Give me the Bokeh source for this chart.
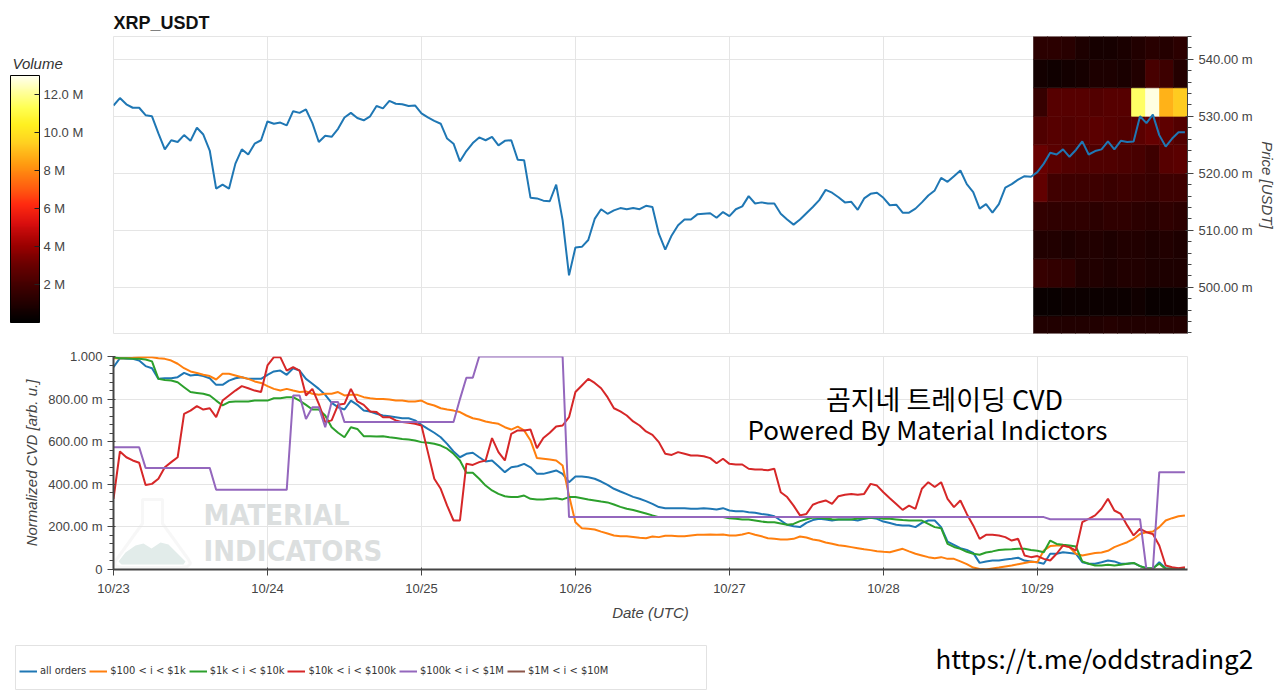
import pandas as pd
from bokeh.plotting import figure
from bokeh.layouts import column
from bokeh.models import (ColumnDataSource, Range1d, DaysTicker, DatetimeTickFormatter,
                          SingleIntervalTicker, CustomJSTickFormatter, LinearColorMapper, ColorBar,
                          FixedTicker, Legend, LegendItem, Label, PolyAnnotation, BoxAnnotation)
from bokeh.transform import transform
from bokeh.embed import file_html
from bokeh.resources import INLINE

# ---------------- data ----------------
SYMBOL = "XRP_USDT"
START = "2023-10-23 00:00"
X_END = "2023-10-29 23:24"

# hourly close price [USDT]
price = [
    0.5319, 0.5332, 0.5321, 0.5315, 0.5315, 0.5302, 0.5300, 0.5270, 0.5242, 0.5258,
    0.5255, 0.5267, 0.5257, 0.5280, 0.5268, 0.5240, 0.5173, 0.5180, 0.5173, 0.5217,
    0.5242, 0.5233, 0.5252, 0.5258, 0.5291, 0.5287, 0.5289, 0.5284, 0.5309, 0.5306,
    0.5312, 0.5288, 0.5255, 0.5266, 0.5264, 0.5278, 0.5298, 0.5306, 0.5297, 0.5293,
    0.5300, 0.5318, 0.5314, 0.5327, 0.5322, 0.5321, 0.5318, 0.5319, 0.5305, 0.5298,
    0.5292, 0.5287, 0.5261, 0.5252, 0.5221, 0.5239, 0.5253, 0.5263, 0.5258, 0.5264,
    0.5249, 0.5257, 0.5258, 0.5224, 0.5223, 0.5157, 0.5156, 0.5152, 0.5151, 0.5180,
    0.5118, 0.5021, 0.5070, 0.5071, 0.5083, 0.5120, 0.5137, 0.5129, 0.5135, 0.5139,
    0.5137, 0.5139, 0.5137, 0.5143, 0.5141, 0.5094, 0.5066, 0.5091, 0.5109, 0.5119,
    0.5119, 0.5128, 0.5129, 0.5130, 0.5122, 0.5132, 0.5125, 0.5137, 0.5142, 0.5160,
    0.5147, 0.5149, 0.5147, 0.5147, 0.5129, 0.5119, 0.5110, 0.5119, 0.5130, 0.5141,
    0.5153, 0.5171, 0.5166, 0.5158, 0.5149, 0.5150, 0.5136, 0.5156, 0.5164, 0.5166,
    0.5157, 0.5144, 0.5145, 0.5131, 0.5131, 0.5138, 0.5149, 0.5161, 0.5170, 0.5192,
    0.5185, 0.5195, 0.5205, 0.5181, 0.5167, 0.5138, 0.5146, 0.5131, 0.5146, 0.5175,
    0.5181, 0.5189, 0.5195, 0.5194, 0.5202, 0.5217, 0.5236, 0.5233, 0.5242, 0.5229,
    0.5241, 0.5256, 0.5233, 0.5239, 0.5242, 0.5256, 0.5242, 0.5257, 0.5255, 0.5256,
    0.5300, 0.5288, 0.5303, 0.5267, 0.5247, 0.5261, 0.5272, 0.5272,
]

cvd_all = [
    0.950, 0.992, 0.989, 0.989, 0.981, 0.955, 0.945, 0.895, 0.898, 0.898,
    0.903, 0.923, 0.911, 0.914, 0.908, 0.898, 0.867, 0.867, 0.887, 0.898,
    0.903, 0.895, 0.895, 0.895, 0.914, 0.930, 0.934, 0.914, 0.945, 0.934,
    0.895, 0.872, 0.848, 0.820, 0.782, 0.762, 0.751, 0.793, 0.773, 0.746,
    0.742, 0.731, 0.723, 0.720, 0.715, 0.710, 0.710, 0.700, 0.679, 0.660,
    0.642, 0.621, 0.590, 0.554, 0.527, 0.543, 0.548, 0.527, 0.507, 0.512,
    0.485, 0.457, 0.480, 0.485, 0.496, 0.480, 0.449, 0.449, 0.457, 0.465,
    0.449, 0.410, 0.437,
    0.437, 0.433, 0.426, 0.413, 0.397, 0.379, 0.366, 0.354, 0.341, 0.332,
    0.321, 0.308, 0.293, 0.288, 0.288, 0.288, 0.288, 0.285, 0.285, 0.288,
    0.285, 0.282, 0.288, 0.277, 0.274, 0.274, 0.269, 0.266, 0.261, 0.257,
    0.250, 0.230, 0.210, 0.203, 0.199, 0.219, 0.232, 0.238, 0.235, 0.230,
    0.235, 0.235, 0.235, 0.230, 0.238, 0.243, 0.238, 0.225, 0.218, 0.210,
    0.207, 0.207, 0.199, 0.219, 0.230, 0.230, 0.199, 0.131, 0.116, 0.100,
    0.092, 0.078, 0.031, 0.038, 0.042, 0.042, 0.047, 0.050, 0.055, 0.042,
    0.038, 0.034,
    0.027, 0.074, 0.074, 0.081, 0.078, 0.074, 0.034, 0.027, 0.027, 0.034,
    0.042, 0.038, 0.027, 0.027, 0.031, 0.016, 0.006, 0.003, 0.034, 0.006,
    0.003, 0.003, 0.006,
]

cvd_100_1k = [
    0.992, 0.992, 0.992, 0.994, 0.997, 0.997, 0.997, 0.992, 0.989, 0.981,
    0.966, 0.945, 0.930, 0.923, 0.914, 0.908, 0.892, 0.919, 0.919, 0.911,
    0.903, 0.895, 0.883, 0.876, 0.861, 0.848, 0.840, 0.848, 0.840, 0.833,
    0.836, 0.825, 0.820, 0.825, 0.825, 0.833, 0.817, 0.820, 0.820, 0.809,
    0.804, 0.801, 0.801, 0.798, 0.793, 0.793, 0.789, 0.789, 0.793, 0.778,
    0.770, 0.757, 0.751, 0.746, 0.739, 0.723, 0.710, 0.704, 0.695, 0.689,
    0.684, 0.668, 0.657, 0.671, 0.653, 0.606, 0.523, 0.520, 0.516, 0.512,
    0.488, 0.347, 0.222,
    0.194, 0.191, 0.188, 0.178, 0.169, 0.160, 0.156, 0.156, 0.153, 0.149,
    0.147, 0.155, 0.152, 0.158, 0.158, 0.156, 0.156, 0.160, 0.163, 0.163,
    0.164, 0.163, 0.164, 0.160, 0.160, 0.164, 0.172, 0.163, 0.156, 0.147,
    0.144, 0.141, 0.141, 0.144, 0.155, 0.150, 0.141, 0.136, 0.127, 0.121,
    0.114, 0.110, 0.105, 0.100, 0.095, 0.091, 0.086, 0.083, 0.081, 0.089,
    0.097, 0.085, 0.074, 0.066, 0.058, 0.053, 0.058, 0.050, 0.050, 0.038,
    0.025, 0.009, 0.002, 0.000, 0.005, 0.009, 0.014, 0.019, 0.025, 0.031,
    0.036, 0.034,
    0.089, 0.110, 0.113, 0.113, 0.105, 0.074, 0.066, 0.072, 0.077, 0.080,
    0.088, 0.105, 0.117, 0.128, 0.144, 0.167, 0.175, 0.178, 0.199, 0.230,
    0.241, 0.250, 0.254,
]

cvd_1k_10k = [
    0.997, 0.992, 0.992, 0.989, 0.989, 0.986, 0.977, 0.895, 0.890, 0.887,
    0.879, 0.856, 0.833, 0.829, 0.825, 0.817, 0.793, 0.770, 0.786, 0.789,
    0.789, 0.789, 0.793, 0.793, 0.793, 0.804, 0.804, 0.809, 0.809, 0.793,
    0.773, 0.751, 0.751, 0.723, 0.668, 0.642, 0.621, 0.668, 0.660, 0.626,
    0.626, 0.624, 0.626, 0.621, 0.617, 0.613, 0.610, 0.606, 0.598, 0.595,
    0.590, 0.582, 0.567, 0.543, 0.512, 0.454, 0.454, 0.426, 0.394, 0.371,
    0.355, 0.344, 0.340, 0.340, 0.347, 0.332, 0.329, 0.329, 0.332, 0.335,
    0.329, 0.340, 0.340,
    0.335, 0.329, 0.324, 0.319, 0.315, 0.305, 0.294, 0.285, 0.279, 0.271,
    0.263, 0.254, 0.246, 0.246, 0.246, 0.246, 0.246, 0.246, 0.246, 0.246,
    0.246, 0.246, 0.246, 0.241, 0.238, 0.235, 0.235, 0.230, 0.225, 0.222,
    0.222, 0.216, 0.210, 0.214, 0.227, 0.236, 0.244, 0.243, 0.239, 0.236,
    0.235, 0.235, 0.235, 0.239, 0.239, 0.243, 0.244, 0.238, 0.238, 0.235,
    0.232, 0.230, 0.230, 0.230, 0.214, 0.199, 0.194, 0.120, 0.106, 0.097,
    0.083, 0.074, 0.069, 0.080, 0.085, 0.092, 0.094, 0.095, 0.097, 0.097,
    0.092, 0.088,
    0.081, 0.136, 0.120, 0.116, 0.113, 0.108, 0.038, 0.027, 0.019, 0.019,
    0.022, 0.019, 0.022, 0.027, 0.031, 0.016, 0.006, 0.006, 0.027, 0.003,
    0.006, 0.003, 0.003,
]

cvd_10k_100k = [
    0.332, 0.554, 0.527, 0.512, 0.501, 0.397, 0.402, 0.426, 0.480, 0.504,
    0.527, 0.731, 0.746, 0.767, 0.751, 0.757, 0.715, 0.793, 0.817, 0.840,
    0.861, 0.851, 0.840, 0.833, 0.958, 0.997, 0.997, 0.934, 0.950, 0.934,
    0.817, 0.848, 0.778, 0.692, 0.700, 0.773, 0.778, 0.848, 0.789, 0.773,
    0.742, 0.739, 0.715, 0.715, 0.700, 0.692, 0.689, 0.684, 0.676, 0.551,
    0.426, 0.379, 0.300, 0.230, 0.230, 0.496, 0.491, 0.504, 0.512, 0.617,
    0.551, 0.512, 0.637, 0.653, 0.653, 0.657, 0.570, 0.617, 0.642, 0.671,
    0.676, 0.715, 0.833,
    0.864, 0.895, 0.876, 0.851, 0.809, 0.757, 0.742, 0.723, 0.695, 0.676,
    0.648, 0.632, 0.598, 0.543, 0.538, 0.551, 0.543, 0.535, 0.535, 0.532,
    0.523, 0.499, 0.520, 0.496, 0.493, 0.493, 0.473, 0.469, 0.469, 0.466,
    0.473, 0.363, 0.340, 0.300, 0.254, 0.261, 0.304, 0.316, 0.324, 0.308,
    0.344, 0.351, 0.355, 0.351, 0.355, 0.402, 0.394, 0.363, 0.335, 0.308,
    0.280, 0.300, 0.285, 0.379, 0.410, 0.387, 0.410, 0.332, 0.293, 0.324,
    0.261, 0.207, 0.144, 0.163, 0.163, 0.160, 0.152, 0.136, 0.144, 0.066,
    0.058, 0.063,
    0.050, 0.042, 0.074, 0.113, 0.105, 0.089, 0.222, 0.238, 0.254, 0.285,
    0.332, 0.277, 0.261, 0.207, 0.160, 0.191, 0.175, 0.167, 0.113, 0.019,
    0.011, 0.006, 0.011,
]

cvd_100k_1m = [
    0.574, 0.574, 0.574, 0.574, 0.574, 0.477, 0.477, 0.477, 0.477, 0.477,
    0.477, 0.477, 0.477, 0.477, 0.477, 0.477, 0.374, 0.374, 0.374, 0.374,
    0.374, 0.374, 0.374, 0.374, 0.374, 0.374, 0.374, 0.374, 0.817, 0.817,
    0.707, 0.762, 0.762, 0.668, 0.786, 0.786, 0.692, 0.692, 0.692, 0.692,
    0.692, 0.692, 0.692, 0.692, 0.692, 0.692, 0.692, 0.692, 0.692, 0.692,
    0.692, 0.692, 0.692, 0.692, 0.800, 0.900, 0.900, 1.000, 1.000, 1.000,
    1.000, 1.000, 1.000, 1.000, 1.000, 1.000, 1.000, 1.000, 1.000, 1.000,
    1.000, 0.246, 0.246, 0.246, 0.246, 0.246, 0.246, 0.246, 0.246, 0.246,
    0.246, 0.246, 0.246, 0.246, 0.246, 0.246, 0.246, 0.246, 0.246, 0.246,
    0.246, 0.246, 0.246, 0.246, 0.246, 0.246, 0.246, 0.246, 0.246, 0.246,
    0.246, 0.246, 0.246, 0.246, 0.246, 0.246, 0.246, 0.246, 0.246, 0.246,
    0.246, 0.246, 0.246, 0.246, 0.246, 0.246, 0.246, 0.246, 0.246, 0.246,
    0.246, 0.246, 0.246, 0.246, 0.246, 0.246, 0.246, 0.246, 0.246, 0.246,
    0.246, 0.246, 0.246, 0.246, 0.246, 0.246, 0.246, 0.246, 0.246, 0.246,
    0.246, 0.246, 0.246, 0.246, 0.246, 0.246, 0.236, 0.236, 0.236, 0.236,
    0.236, 0.236, 0.236, 0.236, 0.236, 0.236, 0.236, 0.236, 0.236, 0.236,
    0.236, 0.000, 0.000, 0.457, 0.457, 0.457, 0.457, 0.457,
]

# only the last hours carry data for the largest bucket
cvd_1m_10m = [0.000, 0.000, 0.000, 0.000, 0.000, 0.000, 0.000, 0.000]

series_labels = ["all orders", "$100 < i < $1k", "$1k < i < $10k",
                 "$10k < i < $100k", "$100k < i < $1M", "$1M < i < $10M"]

# order-book volume heatmap (last 24 h): price bins (lower edge, USDT) x 11 time columns, volume in millions
HEAT_START = "2023-10-28 23:24"
heat_bin_low = [0.490, 0.495, 0.500, 0.505, 0.510, 0.515, 0.520, 0.525, 0.530, 0.535, 0.540]
heat_volume_m = [
    [1.0, 1.0, 1.0, 1.0, 1.0, 1.1, 1.0, 1.0, 1.0, 1.0, 1.0],
    [0.3, 0.3, 0.4, 0.4, 0.4, 0.4, 0.4, 0.5, 0.3, 0.3, 0.3],
    [1.6, 1.5, 1.4, 1.0, 1.0, 0.9, 1.0, 1.0, 0.9, 0.9, 0.9],
    [1.0, 1.0, 0.9, 1.0, 1.0, 0.9, 1.0, 1.0, 0.9, 1.0, 0.9],
    [1.5, 1.4, 1.4, 1.4, 1.3, 1.4, 1.4, 1.3, 1.2, 1.4, 1.3],
    [2.8, 1.9, 1.8, 1.8, 1.8, 1.7, 1.8, 1.7, 1.6, 1.8, 1.8],
    [3.0, 2.6, 2.4, 2.3, 2.3, 2.3, 2.2, 2.1, 1.8, 2.5, 2.6],
    [2.3, 2.5, 2.4, 2.5, 2.6, 2.5, 2.4, 2.6, 2.9, 2.7, 2.4],
    [1.6, 2.5, 2.5, 2.5, 2.4, 2.5, 2.5, 11.5, 12.8, 8.8, 9.3],
    [0.6, 0.5, 0.6, 0.7, 0.9, 0.9, 0.8, 1.0, 2.1, 1.8, 1.1],
    [1.3, 1.3, 1.2, 0.9, 0.7, 0.7, 0.8, 1.0, 1.2, 1.1, 1.3],
]
VOL_MAX = 13.0e6

# ---------------- styling ----------------
COLORS = ["#1f77b4", "#ff7f0e", "#2ca02c", "#d62728", "#9467bd", "#8c564b"]
FONT = "Liberation Sans"
NARROW = "DejaVu Sans Condensed, Liberation Sans"
FRAME_W = 1074


def build_palette(anchors, n=256):
    def h2rgb(h):
        return tuple(int(h[i:i + 2], 16) for i in (1, 3, 5))
    out = []
    for k in range(n):
        t = k / (n - 1)
        for (t0, c0), (t1, c1) in zip(anchors[:-1], anchors[1:]):
            if t0 <= t <= t1:
                f = 0 if t1 == t0 else (t - t0) / (t1 - t0)
                a, b = h2rgb(c0), h2rgb(c1)
                out.append("#%02x%02x%02x" % tuple(round(a[i] + (b[i] - a[i]) * f) for i in range(3)))
                break
    return out


FIRE = build_palette([
    (0.00, "#000000"), (0.05, "#160000"), (0.154, "#440000"), (0.23, "#680000"),
    (0.31, "#9a0000"), (0.40, "#d80e0e"), (0.477, "#ff2a10"), (0.54, "#ff5a10"),
    (0.64, "#ff9a10"), (0.72, "#ffcc20"), (0.80, "#fff020"), (0.87, "#ffff50"),
    (0.95, "#ffffb0"), (1.00, "#fffff0"),
])

si_fmt = CustomJSTickFormatter(code="""
    if (tick == 0) { return "0"; }
    if (Math.abs(tick) >= 1) { return tick.toFixed(3); }
    return (tick * 1000).toFixed(2) + " m";
""")
vol_fmt = CustomJSTickFormatter(code="""
    const m = tick / 1e6;
    return (m >= 10 ? m.toFixed(1) : m.toFixed(0)) + " M";
""")

times = pd.date_range(START, periods=len(price), freq="h")
x_range = Range1d(start=pd.Timestamp(START), end=pd.Timestamp(X_END))
day_ticker = DaysTicker(days=list(range(1, 32)))

# ---------------- top: price + heatmap ----------------
top = figure(frame_width=FRAME_W, frame_height=297, x_range=x_range,
             y_range=Range1d(0.4919, 0.5440), x_axis_type="datetime",
             x_axis_location=None, y_axis_location="right",
             toolbar_location=None, output_backend="svg", title=SYMBOL,
             min_border_left=113, min_border_right=0, min_border_top=36, min_border_bottom=12)
top.title.text_font = FONT
top.title.text_font_size = "18px"
top.title.text_font_style = "bold"
top.title.text_color = "#111111"
top.title.standoff = 7
top.xgrid.ticker = day_ticker
top.grid.grid_line_color = "#e5e5e5"

ax = top.yaxis[0]
ax.ticker = SingleIntervalTicker(interval=0.01, num_minor_ticks=5)
ax.formatter = si_fmt
ax.axis_label = "Price [USDT]"
ax.axis_label_text_font = FONT
ax.axis_label_text_font_style = "italic"
ax.axis_label_text_font_size = "15px"
ax.axis_label_text_color = "#444444"
ax.axis_label_standoff = 3
ax.major_label_text_font = FONT
ax.major_label_text_font_size = "13px"
ax.major_label_text_color = "#444444"
ax.major_label_standoff = 5
ax.axis_line_color = "#444444"
ax.major_tick_line_color = "#444444"
ax.minor_tick_line_color = "#444444"

mapper = LinearColorMapper(palette=FIRE, low=0, high=VOL_MAX)

col_span = pd.Timedelta(hours=24) / len(heat_volume_m[0])
hx, hy, hv = [], [], []
for i, low in enumerate(heat_bin_low):
    for j, v in enumerate(heat_volume_m[i]):
        hx.append(pd.Timestamp(HEAT_START) + col_span * (j + 0.5))
        hy.append(low + 0.0025)
        hv.append(v * 1e6)
heat_src = ColumnDataSource(dict(x=hx, y=hy, vol=hv))
top.rect(x="x", y="y", width=col_span.total_seconds() * 1000, height=0.005, source=heat_src,
         fill_color=transform("vol", mapper), line_color=transform("vol", mapper), line_width=0.6)

top.line(x=times, y=price, line_color=COLORS[0], line_width=2)

# colour bar drawn in the left border (position relative to the frame's bottom-left corner)
cb = ColorBar(color_mapper=mapper, ticker=FixedTicker(ticks=[2e6, 4e6, 6e6, 8e6, 10e6, 12e6]),
              formatter=vol_fmt, orientation="vertical",
              width=29, height=247, padding=0, margin=0, location=(-103, 11),
              major_label_text_font=FONT, major_label_text_font_size="13px",
              major_label_text_color="#444444", label_standoff=4,
              major_tick_line_color="#222222", major_tick_in=5, major_tick_out=0,
              minor_tick_line_color=None, bar_line_color="#000000", bar_line_width=1,
              background_fill_alpha=0)
top.add_layout(cb, "center")
top.add_layout(Label(x=-51, y=270, x_units="screen", y_units="screen", text="Volume",
                     text_baseline="middle", text_font=FONT, text_font_size="15px",
                     text_font_style="italic", text_color="#333333"), "left")

# ---------------- bottom: normalized CVD ----------------
bot = figure(frame_width=FRAME_W, frame_height=213, x_range=x_range, y_range=Range1d(0, 1),
             x_axis_type="datetime", toolbar_location=None, output_backend="svg",
             min_border_left=113, min_border_right=88, min_border_top=11, min_border_bottom=60)
bot.grid.grid_line_color = "#e5e5e5"
bot.xaxis.ticker = day_ticker
bot.xaxis.formatter = DatetimeTickFormatter(days="%m/%d", months="%m/%d", hours="%m/%d")
bot.xaxis.minor_tick_line_color = None
bot.yaxis.ticker = SingleIntervalTicker(interval=0.2, num_minor_ticks=5)
bot.yaxis.formatter = si_fmt
bot.xaxis.axis_label = "Date (UTC)"
bot.yaxis.axis_label = "Normalized CVD [arb. u.]"
for a in (bot.xaxis[0], bot.yaxis[0]):
    a.axis_label_text_font = FONT
    a.axis_label_text_font_style = "italic"
    a.axis_label_text_font_size = "15px"
    a.axis_label_text_color = "#444444"
    a.major_label_text_font = FONT
    a.major_label_text_font_size = "13px"
    a.major_label_text_color = "#444444"
    a.axis_line_color = "#444444"
    a.axis_line_width = 2
    a.major_tick_line_color = "#444444"
    a.minor_tick_line_color = "#444444" if a is bot.yaxis[0] else None

# watermark (logo + name), behind the lines
bot.add_layout(PolyAnnotation(xs=[5, 12, 22, 30, 38, 47, 55, 64, 72, 70, 8],
                              ys=[8, 17, 24, 26, 21, 27, 25, 16, 8, 5, 5],
                              xs_units="screen", ys_units="screen", level="underlay",
                              fill_color="#e2ecea", fill_alpha=1, line_color=None))
bot.add_layout(PolyAnnotation(xs=[29, 49, 49, 75, 77, 74, 68, 8, 3, 1, 3, 29],
                              ys=[70, 70, 46, 10, 6, 3, 2, 2, 3, 6, 10, 46],
                              xs_units="screen", ys_units="screen", level="underlay",
                              fill_color=None, fill_alpha=0, line_color="#e3e5e5", line_width=3))
for txt, yy in (("MATERIAL", 55), ("INDICATORS", 19)):
    bot.add_layout(Label(x=90, y=yy, x_units="screen", y_units="screen", text=txt,
                         text_font=NARROW, text_font_style="bold", text_baseline="alphabetic",
                         text_font_size="29px", text_color="#dcdfdf", level="underlay"))

cvd_series = [cvd_all, cvd_100_1k, cvd_1k_10k, cvd_10k_100k, cvd_100k_1m]
for vals, c in zip(cvd_series, COLORS):
    bot.line(x=times, y=vals, line_color=c, line_width=2)
bot.line(x=times[-len(cvd_1m_10m):], y=cvd_1m_10m, line_color=COLORS[5], line_width=2)

bot.add_layout(Label(x=831, y=171, x_units="screen", y_units="screen",
                     text="곰지네 트레이딩 CVD", text_align="center", text_baseline="middle",
                     text_font="Noto Sans CJK KR", text_font_size="27px", text_color="#000000"))
bot.add_layout(Label(x=814, y=141, x_units="screen", y_units="screen",
                     text="Powered By Material Indictors", text_align="center", text_baseline="middle",
                     text_font="Noto Sans CJK KR", text_font_size="26px", text_color="#000000"))

# ---------------- legend strip (own canvas, not frame-aligned) ----------------
leg = figure(width=1276, height=62, x_range=Range1d(0, 1), y_range=Range1d(0, 1),
             toolbar_location=None, output_backend="svg", x_axis_location=None,
             y_axis_location=None, min_border=0, outline_line_color=None, frame_align=False)
leg.grid.visible = False
leg.add_layout(BoxAnnotation(left=15, right=706, bottom=2, top=46, left_units="screen",
                             right_units="screen", bottom_units="screen", top_units="screen",
                             fill_alpha=0, line_color="#e2e2e2", line_alpha=1, line_width=1,
                             line_dash="solid"))
# legend proxies: the same series, drawn on this strip's unit ranges (so they fall outside it)
items = []
for lab, vals, c in zip(series_labels, cvd_series + [cvd_1m_10m], COLORS):
    r = leg.line(x=times[-len(vals):], y=vals, line_color=c, line_width=2)
    items.append(LegendItem(label=lab, renderers=[r]))
legend = Legend(items=items, orientation="horizontal", location=(19, 14),
                glyph_width=18, glyph_height=12, label_height=12, label_standoff=3,
                spacing=3, padding=4, margin=0, border_line_color=None,
                background_fill_alpha=0, label_text_font=NARROW,
                label_text_font_size="11px", label_text_color="#333333")
leg.add_layout(legend, "center")
leg.add_layout(Label(x=935, y=34, x_units="screen", y_units="screen",
                     text="https://t.me/oddstrading2", text_font="Noto Sans CJK KR",
                     text_baseline="alphabetic", text_font_size="26px", text_color="#000000"))

layout = column(top, bot, leg, spacing=0)
open("out.html", "w").write(file_html(layout, INLINE))
